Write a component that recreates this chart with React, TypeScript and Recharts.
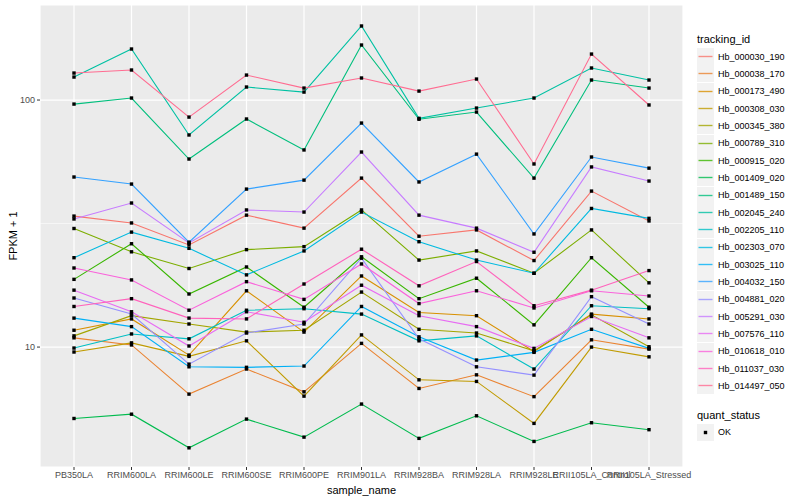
import React from 'react'
import { LineChart, Line, XAxis, YAxis, CartesianGrid, ReferenceLine } from 'recharts'

const SAMPLES = [
  'PB350LA', 'RRIM600LA', 'RRIM600LE', 'RRIM600SE', 'RRIM600PE', 'RRIM901LA',
  'RRIM928BA', 'RRIM928LA', 'RRIM928LE', 'RRII105LA_Control', 'RRII105LA_Stressed',
]

const TRACKING_IDS = [
  'Hb_000030_190', 'Hb_000038_170', 'Hb_000173_490', 'Hb_000308_030', 'Hb_000345_380',
  'Hb_000789_310', 'Hb_000915_020', 'Hb_001409_020', 'Hb_001489_150', 'Hb_002045_240',
  'Hb_002205_110', 'Hb_002303_070', 'Hb_003025_110', 'Hb_004032_150', 'Hb_004881_020',
  'Hb_005291_030', 'Hb_007576_110', 'Hb_010618_010', 'Hb_011037_030', 'Hb_014497_050',
]

// ggplot default hue palette, 20 levels
const COLORS = [
  '#F8766D', '#EA8331', '#D89000', '#C09B00', '#A3A500', '#7CAE00', '#39B600', '#00BB4E',
  '#00BF7D', '#00C1A3', '#00BFC4', '#00BAE0', '#00B0F6', '#35A2FF', '#9590FF', '#C77CFF',
  '#E76BF3', '#FA62DB', '#FF62BC', '#FF6C91',
]

// FPKM + 1, one value per sample
const hb_000030_190 = [33.9, 31.8, 25.9, 34.2, 30.3, 48.3, 28.1, 29.8, 22.4, 42.8, 32.4]
const hb_000038_170 = [10.9, 10.2, 6.45, 8.15, 6.59, 10.35, 6.8, 7.72, 6.3, 10.7, 9.81]
const hb_000173_490 = [11.7, 13.0, 9.28, 16.9, 11.5, 19.4, 13.8, 13.4, 9.59, 13.6, 13.0]
const hb_000308_030 = [9.55, 10.4, 9.17, 10.6, 6.33, 11.2, 7.37, 7.26, 4.91, 10.0, 9.13]
const hb_000345_380 = [11.1, 13.4, 12.4, 11.5, 11.7, 16.7, 11.8, 11.4, 9.66, 13.5, 10.03]
const hb_000789_310 = [30.2, 24.3, 20.8, 24.8, 25.5, 35.9, 22.5, 24.5, 19.9, 29.8, 18.2]
const hb_000915_020 = [18.8, 26.2, 16.4, 21.1, 14.5, 23.2, 15.7, 19.0, 12.3, 23.0, 14.5]
const hb_001409_020 = [5.14, 5.35, 3.91, 5.11, 4.32, 5.88, 4.27, 5.27, 4.15, 4.94, 4.63]
const hb_001489_150 = [96.3, 101.9, 57.7, 83.8, 62.8, 167.0, 83.6, 89.4, 48.3, 120.5, 111.8]
const hb_002045_240 = [123.9, 160.9, 72.2, 112.9, 107.7, 199.4, 84.3, 92.8, 101.9, 134.8, 120.5]
const hb_002205_110 = [9.91, 11.3, 10.8, 14.1, 14.3, 13.6, 10.6, 11.1, 8.15, 14.7, 14.3]
const hb_002303_070 = [23.0, 29.2, 25.1, 19.6, 24.5, 35.2, 26.7, 22.5, 19.9, 36.4, 33.2]
const hb_003025_110 = [13.1, 12.1, 8.32, 8.28, 8.38, 14.6, 11.0, 8.86, 9.52, 11.8, 9.88]
const hb_004032_150 = [48.8, 45.7, 26.6, 43.6, 47.4, 80.7, 46.6, 60.4, 28.7, 58.8, 53.0]
const hb_004881_020 = [15.8, 13.6, 8.53, 11.4, 12.4, 22.9, 10.8, 8.32, 7.7, 16.0, 12.4]
const hb_005291_030 = [33.0, 38.3, 26.4, 35.9, 35.2, 61.6, 34.2, 30.3, 24.2, 53.6, 47.0]
const hb_007576_110 = [17.0, 13.9, 10.1, 13.9, 12.6, 17.8, 13.4, 12.1, 9.88, 13.3, 10.9]
const hb_010618_010 = [20.9, 18.7, 14.1, 18.4, 15.6, 21.7, 15.0, 16.9, 14.4, 16.9, 16.1]
const hb_011037_030 = [14.6, 15.7, 13.1, 13.0, 18.0, 24.9, 17.7, 22.2, 14.7, 17.0, 20.4]
const hb_014497_050 = [128.6, 132.3, 85.3, 126.2, 111.8, 122.8, 108.7, 121.6, 55.1, 153.5, 95.5]

const SERIES = [
  hb_000030_190, hb_000038_170, hb_000173_490, hb_000308_030, hb_000345_380,
  hb_000789_310, hb_000915_020, hb_001409_020, hb_001489_150, hb_002045_240,
  hb_002205_110, hb_002303_070, hb_003025_110, hb_004032_150, hb_004881_020,
  hb_005291_030, hb_007576_110, hb_010618_010, hb_011037_030, hb_014497_050,
]

const Y_TICKS = [10, 100]
const Y_MINOR = [3.162, 31.62]
const Y_DOMAIN = [3.27, 242.5]

const data = SAMPLES.map((s, i) => {
  const row: Record<string, string | number> = { sample: s }
  TRACKING_IDS.forEach((id, k) => {
    row[id] = SERIES[k][i]
  })
  return row
})

const FONT = '"Liberation Sans", Arial, Helvetica, sans-serif'

function SquareDot(props: any) {
  const { cx, cy, index } = props
  if (cx == null || cy == null) return null
  return <rect key={index} x={cx - 1.7} y={cy - 1.7} width={3.4} height={3.4} fill="#000000" />
}

function LegendPanel() {
  return (
    <div style={{ position: 'absolute', left: 697, top: 31, fontFamily: FONT, color: '#000' }}>
      <div style={{ fontSize: 11, height: 17, lineHeight: '17px' }}>tracking_id</div>
      {TRACKING_IDS.map((id, k) => (
        <div key={id} style={{ display: 'flex', alignItems: 'center', height: 17.33 }}>
          <svg width={17} height={17} style={{ display: 'block' }}>
            <rect x={0} y={0} width={17} height={17} fill="#F2F2F2" />
            <line x1={1.5} y1={8.5} x2={15.5} y2={8.5} stroke={COLORS[k]} strokeWidth={1.4} strokeOpacity={0.8} />
          </svg>
          <span style={{ fontSize: 9, marginLeft: 4 }}>{id}</span>
        </div>
      ))}
      <div style={{ fontSize: 11, height: 17, lineHeight: '17px', marginTop: 12 }}>quant_status</div>
      <div style={{ display: 'flex', alignItems: 'center', height: 17.33 }}>
        <svg width={17} height={17} style={{ display: 'block' }}>
          <rect x={0} y={0} width={17} height={17} fill="#F2F2F2" />
          <rect x={6.8} y={6.8} width={3.4} height={3.4} fill="#000" />
        </svg>
        <span style={{ fontSize: 9, marginLeft: 4 }}>OK</span>
      </div>
    </div>
  )
}

export default function App() {
  return (
    <div style={{ position: 'absolute', left: 0, top: 0, width: 800, height: 500, background: '#fff' }}>
      <LineChart
        width={800}
        height={500}
        data={data}
        margin={{ top: 5, right: 117, left: 0, bottom: 0 }}
        style={{ fontFamily: FONT }}
      >
        <CartesianGrid fill="#EBEBEB" fillOpacity={1} stroke="#FFFFFF" strokeWidth={1.2} />
        {Y_MINOR.map((v) => (
          <ReferenceLine key={v} y={v} stroke="#FFFFFF" strokeWidth={0.6} />
        ))}
        <XAxis
          dataKey="sample"
          interval={0}
          padding={{ left: 34, right: 34 }}
          height={33}
          axisLine={false}
          tickSize={3}
          tickMargin={2}
          tickLine={{ stroke: '#333333' }}
          tick={{ fontSize: 9, fill: '#4D4D4D' }}
          label={{ value: 'sample_name', position: 'insideBottom', offset: 6, fontSize: 11, fill: '#000' }}
        />
        <YAxis
          type="number"
          scale="log"
          domain={Y_DOMAIN}
          allowDataOverflow
          ticks={Y_TICKS}
          width={40}
          axisLine={false}
          tickSize={3}
          tickMargin={2}
          tickLine={{ stroke: '#333333' }}
          tick={{ fontSize: 9, fill: '#4D4D4D' }}
          label={{
            value: 'FPKM + 1', angle: -90, position: 'insideLeft', offset: 13,
            fontSize: 11, fill: '#000', style: { textAnchor: 'middle' },
          }}
        />
        {TRACKING_IDS.map((id, k) => (
          <Line
            key={id}
            type="linear"
            dataKey={id}
            stroke={COLORS[k]}
            strokeWidth={1.1}
            dot={false}
            activeDot={false}
            isAnimationActive={false}
          />
        ))}
        {TRACKING_IDS.map((id) => (
          <Line
            key={id + '-pts'}
            type="linear"
            dataKey={id}
            stroke="none"
            dot={SquareDot}
            activeDot={false}
            legendType="none"
            isAnimationActive={false}
          />
        ))}
      </LineChart>
      <LegendPanel />
    </div>
  )
}
